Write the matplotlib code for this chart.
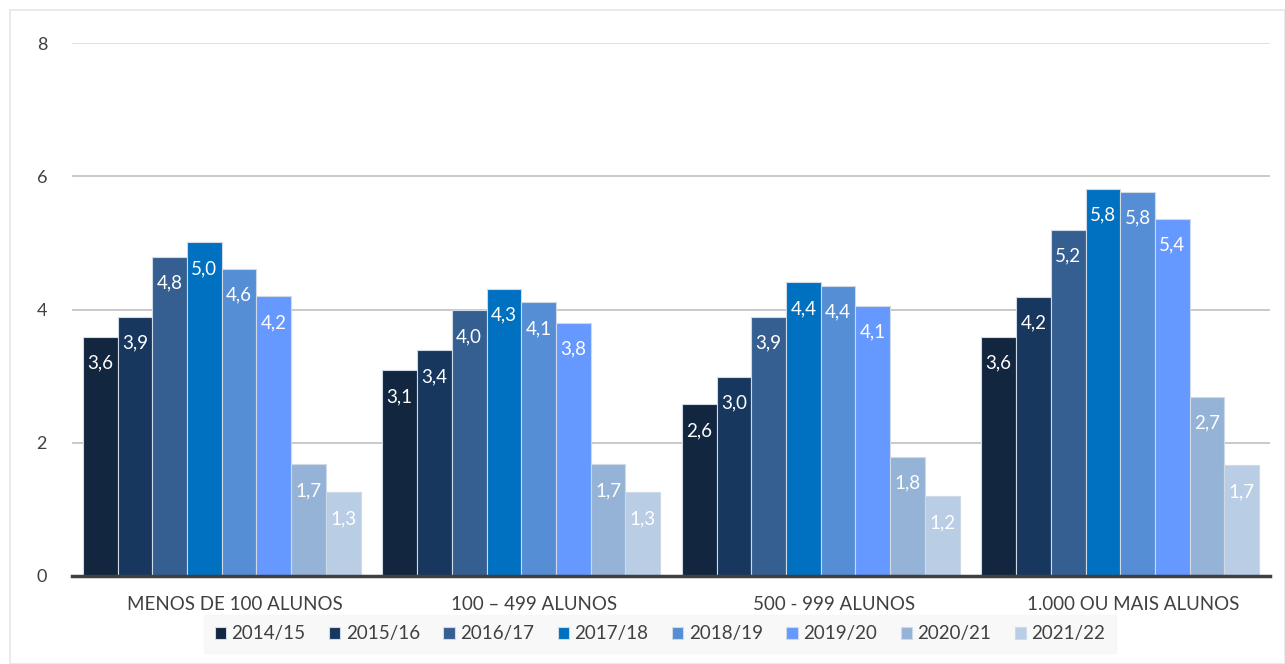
import matplotlib
matplotlib.use("Agg")
import matplotlib.pyplot as plt
import matplotlib.transforms as mtransforms
from matplotlib.patches import Rectangle
import numpy as np

plt.rcParams['font.family'] = ['Lato', 'DejaVu Sans']

categories = ["MENOS DE 100 ALUNOS", "100 – 499 ALUNOS", "500 - 999 ALUNOS", "1.000 OU MAIS ALUNOS"]
series = ["2014/15", "2015/16", "2016/17", "2017/18", "2018/19", "2019/20", "2020/21", "2021/22"]
v2014 = [3.59, 3.09, 2.58, 3.59]
v2015 = [3.89, 3.39, 2.99, 4.19]
v2016 = [4.79, 3.99, 3.89, 5.20]
v2017 = [5.01, 4.31, 4.41, 5.81]
v2018 = [4.61, 4.11, 4.36, 5.77]
v2019 = [4.20, 3.80, 4.06, 5.36]
v2020 = [1.68, 1.68, 1.79, 2.69]
v2021 = [1.26, 1.26, 1.20, 1.66]
values = [v2014, v2015, v2016, v2017, v2018, v2019, v2020, v2021]
colors = ["#12263f", "#17375e", "#355f91", "#0070c0", "#558ed5", "#6699ff", "#95b3d7", "#b9cde5"]

fig = plt.figure(figsize=(12.85, 6.64), dpi=100)
fig.patches.append(Rectangle((10/1285, 0), 1 - 10/1285, 1 - 10/664, transform=fig.transFigure,
                             fill=False, edgecolor="#e6e6e6", linewidth=1.2))
ax = fig.add_axes([72/1285, 1 - 576/664, 1198/1285, 533/664])

x = np.arange(len(categories))
n = len(series)
w = 0.116
for i, (s, vals, c) in enumerate(zip(series, values, colors)):
    pos = x - (n - 1) / 2 * w + i * w
    bars = ax.bar(pos, vals, width=w, color=c, edgecolor="#d0dae6", linewidth=0.8, label=s, zorder=3)
    for b, v in zip(bars, vals):
        ax.annotate(f"{v:.1f}".replace(".", ","), (b.get_x() + b.get_width() / 2, v),
                    xytext=(0, -19), textcoords="offset points", ha="center", va="center",
                    color="white", fontsize=13.5, zorder=4)

ax.set_xlim(-0.5, len(categories) - 0.5)
ax.set_ylim(0, 8)
ax.set_yticks([0, 2, 4, 6, 8])
ax.set_yticklabels(["0", "2", "4", "6", "8"])
ax.set_xticks(x)
ax.set_xticklabels([])
offset = mtransforms.ScaledTranslation(13/100, -28/100, fig.dpi_scale_trans)
trans = mtransforms.blended_transform_factory(ax.transData, ax.transAxes) + offset
for xi, cat in zip(x, categories):
    ax.text(xi, 0, cat, transform=trans, ha="center", va="center", fontsize=13.5, color="#404040")
ax.tick_params(axis="both", length=0, labelsize=13, labelcolor="#404040")
ax.tick_params(axis="y", pad=18)
for sp in ["top", "right", "left"]:
    ax.spines[sp].set_visible(False)
ax.spines["bottom"].set_color("#404040")
ax.spines["bottom"].set_linewidth(2.5)
ax.spines["bottom"].set_zorder(5)
ax.yaxis.grid(True, color="#c0c0c0", linewidth=1.2, zorder=0)
ax.set_axisbelow(True)
gl = ax.get_ygridlines()
gl[-1].set_color("#dcdcdc")

leg = fig.legend(loc="center", bbox_to_anchor=(660/1285, 1 - 634/664), ncol=8, frameon=True,
                 fontsize=13.5, handlelength=0.6, handleheight=0.6, handletextpad=0.3,
                 columnspacing=1.25, borderpad=0.55, fancybox=False)
leg.get_frame().set_facecolor("#f7f7f7")
leg.get_frame().set_edgecolor("#f7f7f7")
for t in leg.get_texts():
    t.set_color("#404040")

fig.savefig("out.png", dpi=100)
